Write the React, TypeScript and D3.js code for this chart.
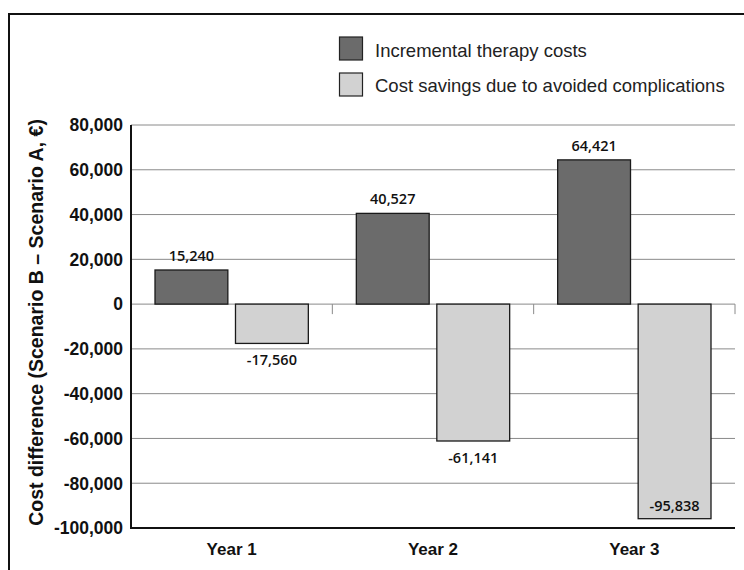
import React from "react";
import * as d3 from "d3";

const years = ["Year 1", "Year 2", "Year 3"];
const seriesNames = ["Incremental therapy costs", "Cost savings due to avoided complications"];
const therapyCosts = [15240, 40527, 64421];
const costSavings = [-17560, -61141, -95838];
const yTicks = [80000, 60000, 40000, 20000, 0, -20000, -40000, -60000, -80000, -100000];
const yTitle = "Cost difference (Scenario B \u2013 Scenario A, \u20ac)";

const W = 744;
const H = 570;
const colors = ["#6b6b6b", "#d2d2d2"];

export default function App() {
  const plotLeft = 131;
  const plotRight = 735;
  const plotTop = 125;
  const plotBottom = 528;

  const y = d3.scaleLinear().domain([-100000, 80000]).range([plotBottom, plotTop]);
  const x0 = d3.scaleBand<string>().domain(years).range([plotLeft, plotRight]).padding(0);
  const bw0 = x0.bandwidth();
  const x1 = d3
    .scaleBand<string>()
    .domain(seriesNames)
    .range([24, bw0 - 24])
    .paddingInner(0.095)
    .paddingOuter(0);

  const locale = d3.formatLocale({ decimal: ".", thousands: ",", grouping: [3], currency: ["", ""], minus: "-" });
  const fmt = locale.format(",");
  const seriesData = [therapyCosts, costSavings];
  const sans = "'Liberation Sans', Arial, Helvetica, sans-serif";
  const labelFont = "'Open Sans', 'Liberation Sans', sans-serif";

  return (
    <svg width={W} height={H} style={{ position: "absolute", left: 0, top: 0, background: "#fff" }}>
      {/* frame */}
      <rect x={9} y={14} width={W} height={H} fill="none" stroke="#111" strokeWidth={2} />

      {/* legend */}
      {seriesNames.map((s, i) => (
        <g key={s}>
          <rect x={339.5} y={37 + i * 36} width={23} height={23} fill={colors[i]} stroke="#222" strokeWidth={1.2} />
          <text x={375} y={57 + i * 35} fontFamily={sans} fontSize={18.5} fill="#222">
            {s}
          </text>
        </g>
      ))}

      {/* gridlines */}
      {yTicks.map((t) => (
        <line key={t} x1={plotLeft} x2={plotRight} y1={y(t)} y2={y(t)} stroke="#8a8a8a" strokeWidth={1} />
      ))}

      {/* category ticks on zero line */}
      {years.map((c) => (
        <line
          key={c}
          x1={(x0(c) as number) + bw0}
          x2={(x0(c) as number) + bw0}
          y1={y(0)}
          y2={y(0) + 10}
          stroke="#8a8a8a"
          strokeWidth={1}
        />
      ))}

      {/* bars */}
      {years.map((c, ci) =>
        seriesNames.map((s, si) => {
          const v = seriesData[si][ci];
          const bx = (x0(c) as number) + (x1(s) as number);
          const top = y(Math.max(0, v));
          const bot = y(Math.min(0, v));
          return (
            <rect
              key={c + s}
              x={bx}
              y={top}
              width={x1.bandwidth()}
              height={bot - top}
              fill={colors[si]}
              stroke="#1a1a1a"
              strokeWidth={1.3}
            />
          );
        })
      )}

      {/* value labels */}
      {years.map((c, ci) =>
        seriesNames.map((s, si) => {
          const v = seriesData[si][ci];
          const cx = (x0(c) as number) + (x1(s) as number) + x1.bandwidth() / 2;
          let ly;
          if (v >= 0) ly = y(v) - 9;
          else {
            ly = y(v) + 22;
            if (ly > plotBottom - 4) ly = y(v) - 8;
          }
          return (
            <text
              key={"l" + c + s}
              x={cx}
              y={ly}
              textAnchor="middle"
              fontFamily={labelFont}
              fontSize={14.5}
              fontWeight={600}
              fill="#111"
            >
              {fmt(v)}
            </text>
          );
        })
      )}

      {/* axes */}
      <line x1={plotLeft} x2={plotLeft} y1={plotTop} y2={plotBottom + 1} stroke="#111" strokeWidth={2} />
      <line x1={plotLeft - 1} x2={plotRight} y1={plotBottom} y2={plotBottom} stroke="#111" strokeWidth={2} />

      {/* y tick labels */}
      {yTicks.map((t) => (
        <text
          key={"t" + t}
          x={123}
          y={y(t)}
          dy="0.36em"
          textAnchor="end"
          fontFamily={sans}
          fontWeight="bold"
          fontSize={17.5}
          fill="#111"
        >
          {fmt(t)}
        </text>
      ))}

      {/* x labels */}
      {years.map((c) => (
        <text
          key={"x" + c}
          x={(x0(c) as number) + bw0 / 2}
          y={555}
          textAnchor="middle"
          fontFamily={sans}
          fontWeight="bold"
          fontSize={17}
          fill="#111"
        >
          {c}
        </text>
      ))}

      {/* y title */}
      <text
        transform={`translate(43, ${(plotTop + plotBottom) / 2 - 4}) rotate(-90)`}
        textAnchor="middle"
        fontFamily={sans}
        fontWeight="bold"
        fontSize={19.5}
        fill="#111"
      >
        {yTitle}
      </text>
    </svg>
  );
}
